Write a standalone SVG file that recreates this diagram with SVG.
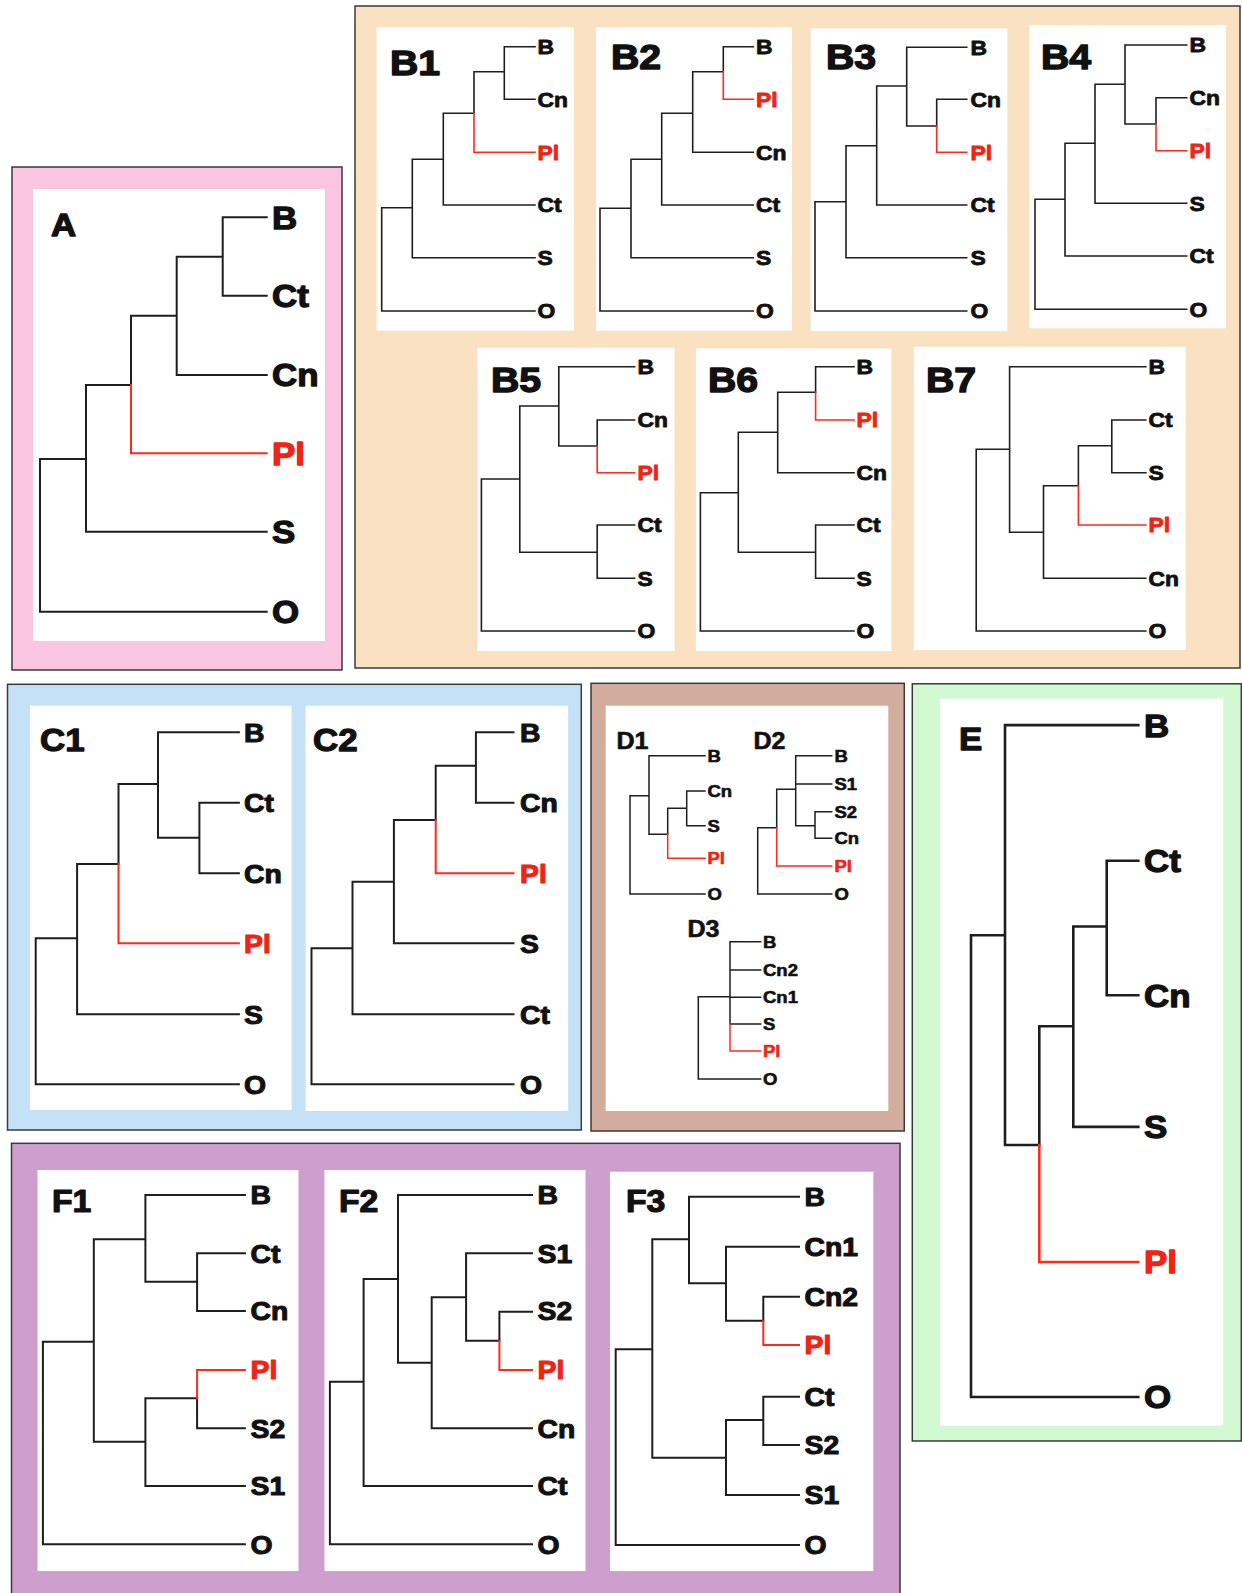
<svg xmlns="http://www.w3.org/2000/svg" width="1242" height="1593" viewBox="0 0 1242 1593">
  <style>
    .frame { stroke: #3a3a3a; stroke-width: 1.5; }
    .card { fill: #ffffff; stroke: none; }
    .br { fill: none; stroke: #1e1e1e; stroke-linecap: square; stroke-linejoin: miter; }
    .hl { fill: none; stroke: #ff2a1e; stroke-linecap: square; }
    .w26 .br, .w26 .hl { stroke-width: 2.6; }
    .w20 .br, .w20 .hl { stroke-width: 2; }
    .w16 .br, .w16 .hl { stroke-width: 1.6; }
    .w15 .br, .w15 .hl { stroke-width: 1.5; }
    text { font-family: "Liberation Sans", Arial, Helvetica, sans-serif; font-weight: bold; fill: #111111;
           stroke: #111111; stroke-linejoin: round;
           transform-box: fill-box; transform-origin: 0 0; transform: scaleX(1.09); }
    text.red { fill: #ee2414; stroke: #ee2414; }
    .L32 { font-size: 32px; stroke-width: 1.3; }
    .L26 { font-size: 26px; stroke-width: 1.05; }
    .L21 { font-size: 21px; stroke-width: 0.85; }
    .L17 { font-size: 17px; stroke-width: 0.6; }
    .T36 { font-size: 36px; stroke-width: 1.4; }
    .T32 { font-size: 32px; stroke-width: 1.3; }
    .T31 { font-size: 31px; stroke-width: 1.2; }
    .T23 { font-size: 23px; stroke-width: 0.6; }
  </style>

  <rect width="1242" height="1593" fill="#ffffff"/>

  <!-- ===== Panel A ===== -->
  <g id="panel-A">
    <rect class="frame" x="12" y="167" width="330" height="503" fill="#f9c5e0"/>
    <rect class="card" x="33" y="189" width="292" height="452"/>
    <g id="tree-A" class="w20">
      <g class="branches">
        <path class="br" d="M266.7,217.3 H222.7 V295.7 H266.7 M222.7,256.7 H176.7 V375 H266.7 M176.7,315.7 H131 V385 M131,385 H86 V531.7 H266.7 M86,459 H40 V611.7 H266.7"/>
        <path class="hl" d="M131,385 V453.3 H266.7"/>
      </g>
      <text class="T32" x="51" y="236.5">A</text>
      <text class="L32" x="272" y="228.8">B</text>
      <text class="L32" x="272" y="307.2">Ct</text>
      <text class="L32" x="272" y="386.5">Cn</text>
      <text class="L32 red" x="272" y="464.8">Pl</text>
      <text class="L32" x="272" y="543.2">S</text>
      <text class="L32" x="272" y="623.2">O</text>
    </g>
  </g>

  <!-- ===== Panel B ===== -->
  <g id="panel-B">
    <rect class="frame" x="355" y="6" width="885" height="662" fill="#fae1c2"/>
    <rect class="card" x="376.7" y="27.3" width="197.3" height="303.4"/>
    <rect class="card" x="596" y="27.3" width="196" height="303.4"/>
    <rect class="card" x="810.7" y="28.3" width="196.6" height="302.7"/>
    <rect class="card" x="1029.3" y="25" width="196.7" height="303.3"/>
    <rect class="card" x="477.5" y="347.7" width="197" height="303.3"/>
    <rect class="card" x="695.9" y="348.3" width="195.5" height="302.7"/>
    <rect class="card" x="913.8" y="346.7" width="271.9" height="303.3"/>

    <g id="tree-B1" class="w16">
      <g class="branches">
        <path class="br" d="M535,46.7 H504.3 V99.3 H535 M504.3,71.7 H474 V113.3 M474,113.3 H443.3 V205 H535 M443.3,159.3 H412.3 V257.7 H535 M412.3,207.7 H381.7 V311 H535"/>
        <path class="hl" d="M474,113.3 V152.3 H535"/>
      </g>
      <text class="T36" x="390" y="75">B1</text>
      <text class="L21" x="537.5" y="54.2">B</text>
      <text class="L21" x="537.5" y="106.8">Cn</text>
      <text class="L21 red" x="537.5" y="159.8">Pl</text>
      <text class="L21" x="537.5" y="212.5">Ct</text>
      <text class="L21" x="537.5" y="265.2">S</text>
      <text class="L21" x="537.5" y="318.5">O</text>
    </g>

    <g id="tree-B2" class="w16">
      <g class="branches">
        <path class="br" d="M753.3,46.7 H723.3 V71.7 M723.3,71.7 H692.7 V152.3 H753.3 M692.7,113.3 H661.7 V205 H753.3 M661.7,159.3 H631 V257.7 H753.3 M631,208.3 H600 V311 H753.3"/>
        <path class="hl" d="M723.3,71.7 V99.3 H753.3"/>
      </g>
      <text class="T36" x="611" y="69">B2</text>
      <text class="L21" x="756" y="54.2">B</text>
      <text class="L21 red" x="756" y="106.8">Pl</text>
      <text class="L21" x="756" y="159.8">Cn</text>
      <text class="L21" x="756" y="212.5">Ct</text>
      <text class="L21" x="756" y="265.2">S</text>
      <text class="L21" x="756" y="318.5">O</text>
    </g>

    <g id="tree-B3" class="w16">
      <g class="branches">
        <path class="br" d="M966.7,47.3 H906.7 V126 H936.7 V99.3 H966.7 M906.7,86 H876.7 V205 H966.7 M876.7,145.7 H846 V257.7 H966.7 M846,201.7 H815 V311 H966.7"/>
        <path class="hl" d="M936.7,126 V152.3 H966.7"/>
      </g>
      <text class="T36" x="826" y="69">B3</text>
      <text class="L21" x="970.5" y="54.8">B</text>
      <text class="L21" x="970.5" y="106.8">Cn</text>
      <text class="L21 red" x="970.5" y="159.8">Pl</text>
      <text class="L21" x="970.5" y="212.5">Ct</text>
      <text class="L21" x="970.5" y="265.2">S</text>
      <text class="L21" x="970.5" y="318.5">O</text>
    </g>

    <g id="tree-B4" class="w16">
      <g class="branches">
        <path class="br" d="M1186.7,45 H1125 V124 H1156 V97.7 H1186.7 M1125,84.3 H1095 V203.3 H1186.7 M1095,143.3 H1065 V256 H1186.7 M1065,199.3 H1035 V309.3 H1186.7"/>
        <path class="hl" d="M1156,124 V150.7 H1186.7"/>
      </g>
      <text class="T36" x="1041" y="69">B4</text>
      <text class="L21" x="1189.5" y="52.5">B</text>
      <text class="L21" x="1189.5" y="105.2">Cn</text>
      <text class="L21 red" x="1189.5" y="158.2">Pl</text>
      <text class="L21" x="1189.5" y="210.8">S</text>
      <text class="L21" x="1189.5" y="263.5">Ct</text>
      <text class="L21" x="1189.5" y="316.8">O</text>
    </g>

    <g id="tree-B5" class="w16">
      <g class="branches">
        <path class="br" d="M634.6,366.7 H558.8 V446 H597.2 V420 H634.6 M558.8,406 H519.8 V552.3 H597.2 M634.6,525 H597.2 V578.3 H634.6 M519.8,479 H481.4 V631 H634.6"/>
        <path class="hl" d="M597.2,446 V472.7 H634.6"/>
      </g>
      <text class="T36" x="491" y="392">B5</text>
      <text class="L21" x="637.5" y="374.2">B</text>
      <text class="L21" x="637.5" y="427.5">Cn</text>
      <text class="L21 red" x="637.5" y="480.2">Pl</text>
      <text class="L21" x="637.5" y="532.5">Ct</text>
      <text class="L21" x="637.5" y="585.8">S</text>
      <text class="L21" x="637.5" y="638.5">O</text>
    </g>

    <g id="tree-B6" class="w16">
      <g class="branches">
        <path class="br" d="M854,366.7 H815.6 V392.3 M815.6,392.3 H777.7 V472.7 H854 M777.7,432.3 H738.3 V552.3 H815.6 M854,525 H815.6 V578.3 H854 M738.3,492.7 H700.4 V631 H854"/>
        <path class="hl" d="M815.6,392.3 V420 H854"/>
      </g>
      <text class="T36" x="708" y="392">B6</text>
      <text class="L21" x="856.5" y="374.2">B</text>
      <text class="L21 red" x="856.5" y="427.5">Pl</text>
      <text class="L21" x="856.5" y="480.2">Cn</text>
      <text class="L21" x="856.5" y="532.5">Ct</text>
      <text class="L21" x="856.5" y="585.8">S</text>
      <text class="L21" x="856.5" y="638.5">O</text>
    </g>

    <g id="tree-B7" class="w16">
      <g class="branches">
        <path class="br" d="M1145.8,366.7 H1009.6 V532.3 H1043.5 M1009.6,449.3 H976.2 V631 H1145.8 M1145.8,420 H1111.8 V472.7 H1145.8 M1111.8,445.7 H1078.4 V485.7 M1078.4,485.7 H1043.5 V578.3 H1145.8"/>
        <path class="hl" d="M1078.4,485.7 V525 H1145.8"/>
      </g>
      <text class="T36" x="926" y="392">B7</text>
      <text class="L21" x="1148.5" y="374.2">B</text>
      <text class="L21" x="1148.5" y="427.5">Ct</text>
      <text class="L21" x="1148.5" y="480.2">S</text>
      <text class="L21 red" x="1148.5" y="532.5">Pl</text>
      <text class="L21" x="1148.5" y="585.8">Cn</text>
      <text class="L21" x="1148.5" y="638.5">O</text>
    </g>
  </g>

  <!-- ===== Panel C ===== -->
  <g id="panel-C">
    <rect class="frame" x="7.5" y="684.3" width="573.8" height="445.7" fill="#c5e1f8"/>
    <rect class="card" x="30.1" y="705.7" width="261.5" height="404.3"/>
    <rect class="card" x="305.5" y="705.7" width="262.6" height="405.3"/>

    <g id="tree-C1" class="w20">
      <g class="branches">
        <path class="br" d="M238.9,732.3 H158 V837.7 H199.4 M238.9,802.7 H199.4 V873.3 H238.9 M158,784 H118.5 V864 M118.5,864 H77.1 V1014.3 H238.9 M77.1,938.3 H35.7 V1084.3 H238.9"/>
        <path class="hl" d="M118.5,864 V943.3 H238.9"/>
      </g>
      <text class="T32" x="40" y="751">C1</text>
      <text class="L26" x="244" y="741.6">B</text>
      <text class="L26" x="244" y="812">Ct</text>
      <text class="L26" x="244" y="882.6">Cn</text>
      <text class="L26 red" x="244" y="952.6">Pl</text>
      <text class="L26" x="244" y="1023.6">S</text>
      <text class="L26" x="244" y="1093.6">O</text>
    </g>

    <g id="tree-C2" class="w20">
      <g class="branches">
        <path class="br" d="M513.5,732.3 H475.9 V802.7 H513.5 M475.9,765.7 H435.7 V820 M435.7,820 H393.9 V943.3 H513.5 M393.9,881.7 H352.5 V1014.3 H513.5 M352.5,948.3 H311.5 V1084.3 H513.5"/>
        <path class="hl" d="M435.7,820 V873.3 H513.5"/>
      </g>
      <text class="T32" x="313" y="751">C2</text>
      <text class="L26" x="520" y="741.6">B</text>
      <text class="L26" x="520" y="812">Cn</text>
      <text class="L26 red" x="520" y="882.6">Pl</text>
      <text class="L26" x="520" y="952.6">S</text>
      <text class="L26" x="520" y="1023.6">Ct</text>
      <text class="L26" x="520" y="1093.6">O</text>
    </g>
  </g>

  <!-- ===== Panel D ===== -->
  <g id="panel-D">
    <rect class="frame" x="591" y="683.3" width="313.3" height="447.7" fill="#d2ac9c"/>
    <rect class="card" x="605.7" y="705.7" width="282.6" height="405.3"/>

    <g id="tree-D1" class="w15">
      <g class="branches">
        <path class="br" d="M705,755.7 H649 V834.3 H667.7 M705,791 H686.7 V825.7 H705 M686.7,808.3 H667.7 V834.3 M649,795.7 H630 V894 H705"/>
        <path class="hl" d="M667.7,834.3 V858.3 H705"/>
      </g>
      <text class="T23" x="616.5" y="749">D1</text>
      <text class="L17" x="707.5" y="761.8">B</text>
      <text class="L17" x="707.5" y="797.1">Cn</text>
      <text class="L17" x="707.5" y="831.8">S</text>
      <text class="L17 red" x="707.5" y="864.4">Pl</text>
      <text class="L17" x="707.5" y="900.1">O</text>
    </g>

    <g id="tree-D2" class="w15">
      <g class="branches">
        <path class="br" d="M831.7,755.7 H795.7 V825.7 H815 M795.7,784 H831.7 M831.7,811.7 H815 V838.3 H831.7 M795.7,789.3 H776.7 V827.7 M776.7,827.7 H757.7 V894 H831.7"/>
        <path class="hl" d="M776.7,827.7 V866 H831.7"/>
      </g>
      <text class="T23" x="753.5" y="749">D2</text>
      <text class="L17" x="834.5" y="761.8">B</text>
      <text class="L17" x="834.5" y="790.1">S1</text>
      <text class="L17" x="834.5" y="817.8">S2</text>
      <text class="L17" x="834.5" y="844.4">Cn</text>
      <text class="L17 red" x="834.5" y="872.1">Pl</text>
      <text class="L17" x="834.5" y="900.1">O</text>
    </g>

    <g id="tree-D3" class="w15">
      <g class="branches">
        <path class="br" d="M760.7,941.7 H730 V1024 H760.7 M730,970 H760.7 M730,997.3 H760.7 M730,996.7 H698.3 V1079 H760.7"/>
        <path class="hl" d="M730,1024 V1051 H760.7"/>
      </g>
      <text class="T23" x="687.5" y="936.7">D3</text>
      <text class="L17" x="763" y="947.8">B</text>
      <text class="L17" x="763" y="976.1">Cn2</text>
      <text class="L17" x="763" y="1003.4">Cn1</text>
      <text class="L17" x="763" y="1030.1">S</text>
      <text class="L17 red" x="763" y="1057.1">Pl</text>
      <text class="L17" x="763" y="1085.1">O</text>
    </g>
  </g>

  <!-- ===== Panel E ===== -->
  <g id="panel-E">
    <rect class="frame" x="912.3" y="683.8" width="329" height="757.2" fill="#d3f9d3"/>
    <rect class="card" x="940" y="698.6" width="283.3" height="727"/>

    <g id="tree-E" class="w26">
      <g class="branches">
        <path class="br" d="M1138.3,725.1 H1005 V1145 H1039.3 M1005,935.3 H971 V1397 H1138.3 M1138.3,860.7 H1106.7 V995.2 H1138.3 M1106.7,926.5 H1073.3 V1126.9 H1138.3 M1073.3,1026.2 H1039.3 V1145"/>
        <path class="hl" d="M1039.3,1145 V1262 H1138.3"/>
      </g>
      <text class="T32" x="959" y="749.7">E</text>
      <text class="L32" x="1144" y="736.6">B</text>
      <text class="L32" x="1144" y="872.2">Ct</text>
      <text class="L32" x="1144" y="1006.7">Cn</text>
      <text class="L32" x="1144" y="1138.4">S</text>
      <text class="L32 red" x="1144" y="1273.5">Pl</text>
      <text class="L32" x="1144" y="1408.5">O</text>
    </g>
  </g>

  <!-- ===== Panel F ===== -->
  <g id="panel-F">
    <rect class="frame" x="11.5" y="1143.3" width="888.5" height="460" fill="#ce9fce"/>
    <rect class="card" x="37.5" y="1170" width="261" height="401"/>
    <rect class="card" x="324.5" y="1170" width="261" height="401"/>
    <rect class="card" x="610" y="1171.7" width="263.3" height="399.3"/>

    <g id="tree-F1" class="w20">
      <g class="branches">
        <path class="br" d="M244.9,1195 H145.4 V1281.7 H197.1 M244.9,1253.3 H197.1 V1311 H244.9 M145.4,1239.3 H93.8 V1441.7 H145.4 M244.9,1428.3 H197.1 V1398.3 H145.4 V1486 H244.9 M93.8,1341.7 H42.9 V1544.3 H244.9"/>
        <path class="hl" d="M197.1,1398.3 V1370 H244.9"/>
      </g>
      <text class="T31" x="52" y="1211.7">F1</text>
      <text class="L26" x="250.5" y="1204.3">B</text>
      <text class="L26" x="250.5" y="1262.6">Ct</text>
      <text class="L26" x="250.5" y="1320.3">Cn</text>
      <text class="L26 red" x="250.5" y="1379.3">Pl</text>
      <text class="L26" x="250.5" y="1437.6">S2</text>
      <text class="L26" x="250.5" y="1495.3">S1</text>
      <text class="L26" x="250.5" y="1553.6">O</text>
    </g>

    <g id="tree-F2" class="w20">
      <g class="branches">
        <path class="br" d="M532,1195 H398 V1362.7 H431.7 M532,1253.3 H466.1 V1340.7 H499.4 V1311.7 H532 M466.1,1297.3 H431.7 V1428.3 H532 M398,1279 H363.6 V1486 H532 M363.6,1381.7 H329.9 V1544.3 H532"/>
        <path class="hl" d="M499.4,1340.7 V1370 H532"/>
      </g>
      <text class="T31" x="339" y="1211.7">F2</text>
      <text class="L26" x="537.5" y="1204.3">B</text>
      <text class="L26" x="537.5" y="1262.6">S1</text>
      <text class="L26" x="537.5" y="1320.3">S2</text>
      <text class="L26 red" x="537.5" y="1379.3">Pl</text>
      <text class="L26" x="537.5" y="1437.6">Cn</text>
      <text class="L26" x="537.5" y="1495.3">Ct</text>
      <text class="L26" x="537.5" y="1553.6">O</text>
    </g>

    <g id="tree-F3" class="w20">
      <g class="branches">
        <path class="br" d="M799,1196.7 H689 V1283.3 H726 M799,1246.7 H726 V1320.7 H763.3 V1296.7 H799 M689,1239.3 H652.3 V1457.7 H726 M799,1396.7 H763.3 V1445 H799 M763.3,1420 H726 V1495 H799 M652.3,1349.3 H615.7 V1545 H799"/>
        <path class="hl" d="M763.3,1320.7 V1345 H799"/>
      </g>
      <text class="T31" x="626" y="1211.7">F3</text>
      <text class="L26" x="804.5" y="1206">B</text>
      <text class="L26" x="804.5" y="1256">Cn1</text>
      <text class="L26" x="804.5" y="1306">Cn2</text>
      <text class="L26 red" x="804.5" y="1354.3">Pl</text>
      <text class="L26" x="804.5" y="1406">Ct</text>
      <text class="L26" x="804.5" y="1454.3">S2</text>
      <text class="L26" x="804.5" y="1504.3">S1</text>
      <text class="L26" x="804.5" y="1554.3">O</text>
    </g>
  </g>
</svg>
